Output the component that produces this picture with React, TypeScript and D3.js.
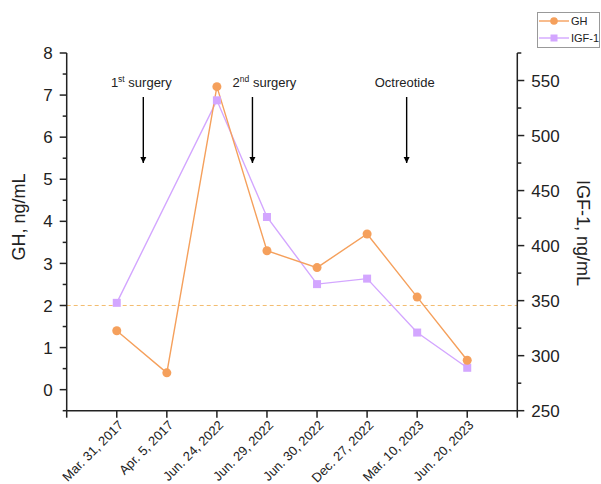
import React from "react";
import * as d3 from "d3";

const categories = ["Mar. 31, 2017", "Apr. 5, 2017", "Jun. 24, 2022", "Jun. 29, 2022", "Jun. 30, 2022", "Dec. 27, 2022", "Mar. 10, 2023", "Jun. 20, 2023"];
const ghValues = [1.4, 0.4, 7.2, 3.3, 2.9, 3.7, 2.2, 0.7];
const igfValues: (number | null)[] = [348, null, 532, 426, 365, 370, 321, 289];
const ghTicks = [0, 1, 2, 3, 4, 5, 6, 7, 8];
const igfTicks = [250, 300, 350, 400, 450, 500, 550];
const annotations = [
  { label: "1", sup: "st", rest: " surgery", pos: 0.53, off: -2 },
  { label: "2", sup: "nd", rest: " surgery", pos: 2.71, off: 12 },
  { label: "Octreotide", sup: "", rest: "", pos: 5.79, off: -2 },
];
const ghRefLine = 2;

const GH_COLOR = "#F5A05C";
const IGF_COLOR = "#D3A6FF";
const FONT = "Liberation Sans, Arial, sans-serif";

export default function App() {
  const W = 601, H = 484;
  const left = 66.7, right = 517.3, top = 53, bottom = 410.7;
  const x = d3.scaleLinear().domain([-1, 8]).range([left, right]);
  const yL = d3.scaleLinear().domain([-0.5, 8]).range([bottom, top]);
  const yR = d3.scaleLinear().domain([250, 575]).range([bottom, top]);

  const ghLine = d3.line<number>().x((_, i) => x(i)).y((d) => yL(d));
  const igfPts = igfValues.map((v, i) => ({ v, i })).filter((d) => d.v !== null) as { v: number; i: number }[];
  const igfLine = d3.line<{ v: number; i: number }>().x((d) => x(d.i)).y((d) => yR(d.v));

  const ghMinor = d3.range(-0.5, 8.01, 0.5).filter((v) => !Number.isInteger(v));
  const igfMinor = d3.range(275, 576, 50);
  const xTicks = d3.range(-1, 9);

  return (
    <svg width={W} height={H} style={{ position: "absolute", left: 0, top: 0, fontFamily: FONT }}>
      <defs>
        <marker id="ah" viewBox="0 0 10 10" refX="10" refY="5" markerWidth="6" markerHeight="9" orient="auto" markerUnits="userSpaceOnUse">
          <path d="M0,0 L10,5 L0,10 z" fill="#000" />
        </marker>
      </defs>
      <rect width={W} height={H} fill="#fff" />

      {/* reference dashed line */}
      <line x1={left} x2={right} y1={yL(ghRefLine)} y2={yL(ghRefLine)} stroke="#F3BD70" strokeWidth={1} strokeDasharray="4,3" />

      {/* axes */}
      <g stroke="#222" strokeWidth={1.5} fill="none">
        <line x1={left} x2={left} y1={top} y2={bottom} />
        <line x1={right} x2={right} y1={top} y2={bottom} />
        <line x1={left} x2={right} y1={bottom} y2={bottom} />
        {ghTicks.map((t) => (
          <line key={"gl" + t} x1={left - 7} x2={left} y1={yL(t)} y2={yL(t)} />
        ))}
        {ghMinor.map((t) => (
          <line key={"gm" + t} x1={left - 4} x2={left} y1={yL(t)} y2={yL(t)} />
        ))}
        {igfTicks.map((t) => (
          <line key={"il" + t} x1={right} x2={right + 7} y1={yR(t)} y2={yR(t)} />
        ))}
        {igfMinor.map((t) => (
          <line key={"im" + t} x1={right} x2={right + 4} y1={yR(t)} y2={yR(t)} />
        ))}
        {xTicks.map((t) => (
          <line key={"xt" + t} x1={x(t)} x2={x(t)} y1={bottom} y2={bottom + 7} />
        ))}
      </g>

      {/* tick labels */}
      <g fontSize={17} fill="#222">
        {ghTicks.map((t) => (
          <text key={"glt" + t} x={left - 14} y={yL(t)} dy="0.36em" textAnchor="end">{t}</text>
        ))}
        {igfTicks.map((t) => (
          <text key={"ilt" + t} x={right + 14} y={yR(t)} dy="0.36em" textAnchor="start">{t}</text>
        ))}
      </g>
      <g fontSize={13} fill="#222">
        {categories.map((c, i) => (
          <text key={c} transform={`translate(${x(i) + 4},${bottom + 12}) rotate(-45)`} textAnchor="end" dy="0.35em">{c}</text>
        ))}
      </g>

      {/* axis titles */}
      <text transform={`translate(25,217) rotate(-90)`} textAnchor="middle" fontSize={18} fill="#222">GH, ng/mL</text>
      <text transform={`translate(577,233) rotate(90)`} textAnchor="middle" fontSize={18} fill="#222">IGF-1, ng/mL</text>

      {/* annotations */}
      {annotations.map((a) => {
        const ax = x(a.pos);
        return (
          <g key={a.label + a.rest}>
            <text x={ax + a.off} y={87} textAnchor="middle" fontSize={13} fill="#222">
              {a.label}
              {a.sup && <tspan fontSize={8.5} dy={-5}>{a.sup}</tspan>}
              {a.sup && <tspan dy={5}>{a.rest}</tspan>}
            </text>
            <line x1={ax} x2={ax} y1={97} y2={163} stroke="#000" strokeWidth={1.4} markerEnd="url(#ah)" />
          </g>
        );
      })}

      {/* series */}
      <path d={igfLine(igfPts) || ""} fill="none" stroke={IGF_COLOR} strokeWidth={1.4} />
      <path d={ghLine(ghValues) || ""} fill="none" stroke={GH_COLOR} strokeWidth={1.4} />
      {igfPts.map((d) => (
        <rect key={"ip" + d.i} x={x(d.i) - 4} y={yR(d.v) - 4} width={8} height={8} fill={IGF_COLOR} />
      ))}
      {ghValues.map((v, i) => (
        <circle key={"gp" + i} cx={x(i)} cy={yL(v)} r={4.5} fill={GH_COLOR} />
      ))}

      {/* legend */}
      <g>
        <rect x={537.5} y={12.5} width={62} height={35} fill="#fff" stroke="#999" strokeWidth={1} />
        <line x1={539} x2={569} y1={21} y2={21} stroke={GH_COLOR} strokeWidth={1.4} />
        <circle cx={554} cy={21} r={3.8} fill={GH_COLOR} />
        <text x={571} y={21} dy="0.36em" fontSize={11} fill="#222">GH</text>
        <line x1={539} x2={569} y1={38} y2={38} stroke={IGF_COLOR} strokeWidth={1.4} />
        <rect x={550.5} y={34.5} width={7} height={7} fill={IGF_COLOR} />
        <text x={571} y={38} dy="0.36em" fontSize={11} fill="#222">IGF-1</text>
      </g>
    </svg>
  );
}
